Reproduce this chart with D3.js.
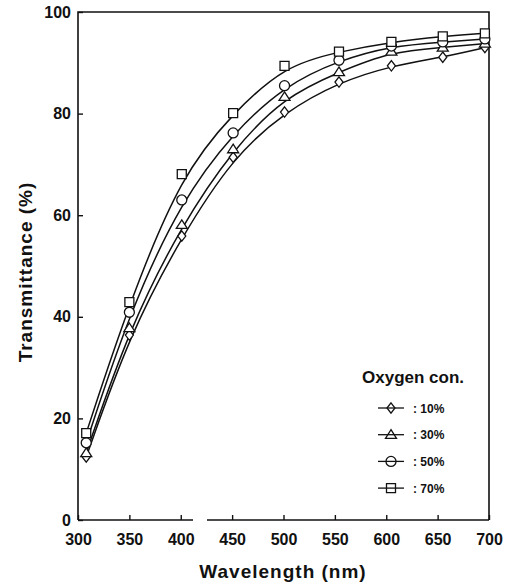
<!DOCTYPE html>
<html>
<head>
<meta charset="utf-8">
<script src="https://cdn.jsdelivr.net/npm/d3@7"></script>
<style>
  body { margin: 0; background: #fff; }
  svg { display: block; }
  text { font-family: "Liberation Sans", Arial, Helvetica, sans-serif; fill: #111; }
</style>
</head>
<body>
<svg id="chart" width="508" height="585"></svg>
<script>
// Measured wavelengths (nm) of the sample points
const wavelength = [308, 350, 401, 451, 501, 554, 605, 655, 696];

// Transmittance (%) for each oxygen concentration
const oxygen10 = [12.4, 36.4, 55.9, 71.4, 80.3, 86.2, 89.4, 91.1, 93.0];
const oxygen30 = [13.2, 37.8, 58.1, 73.0, 83.3, 88.2, 92.2, 93.0, 93.8];
const oxygen50 = [15.2, 40.9, 63.0, 76.2, 85.5, 90.5, 93.3, 94.1, 94.7];
const oxygen70 = [17.1, 42.9, 68.1, 80.1, 89.4, 92.2, 94.1, 95.2, 95.8];

const seriesLabels = [": 10%", ": 30%", ": 50%", ": 70%"];
const seriesShapes = ["diamond", "triangle", "circle", "square"];

const xTickValues = [300, 350, 400, 450, 500, 550, 600, 650, 700];
const yTickValues = [0, 20, 40, 60, 80, 100];

const series = [oxygen10, oxygen30, oxygen50, oxygen70].map((vals, i) => ({
  label: seriesLabels[i],
  shape: seriesShapes[i],
  points: vals.map((v, j) => ({ x: wavelength[j], y: v }))
}));

const svg = d3.select("#chart");

const plotLeft = 78, plotRight = 489, plotTop = 12, plotBottom = 520;
const x = d3.scaleLinear().domain([300, 700]).range([plotLeft, plotRight]);
const y = d3.scaleLinear().domain([0, 100]).range([plotBottom, plotTop]);

// Open marker outlines, centred on the origin
function markerPath(shape) {
  switch (shape) {
    case "diamond":  return "M0,-5.2L4,0L0,5.2L-4,0Z";
    case "triangle": return "M0,-5L5.5,3.6L-5.5,3.6Z";
    case "square":   return "M-4.5,-4.5H4.5V4.5H-4.5Z";
    default:         return d3.symbol(d3.symbolCircle, Math.PI * 5 * 5)();
  }
}

// Frame (the bottom edge has a short break)
const frame = svg.append("g")
  .attr("stroke", "#111").attr("stroke-width", 1.6).attr("fill", "none");
frame.append("path").attr("d", `M${plotLeft},${plotBottom}V${plotTop}H${plotRight}V${plotBottom}`);
frame.append("line").attr("x1", plotLeft).attr("x2", 193).attr("y1", plotBottom).attr("y2", plotBottom);
frame.append("line").attr("x1", 207).attr("x2", plotRight).attr("y1", plotBottom).attr("y2", plotBottom);

// Axes with inward ticks
const xAxis = svg.append("g")
  .attr("transform", `translate(0,${plotBottom})`)
  .call(d3.axisBottom(x).tickValues(xTickValues).tickSizeInner(-5).tickSizeOuter(0).tickPadding(13.5));
const yAxis = svg.append("g")
  .attr("transform", `translate(${plotLeft},0)`)
  .call(d3.axisLeft(y).tickValues(yTickValues).tickSizeInner(-5).tickSizeOuter(0).tickPadding(7));

[xAxis, yAxis].forEach(ax => {
  ax.select(".domain").remove();
  ax.selectAll(".tick line").attr("stroke", "#111").attr("stroke-width", 1.4);
  ax.selectAll(".tick text")
    .attr("font-family", "'Liberation Sans', Arial, sans-serif")
    .attr("font-size", 16).attr("font-weight", "bold").attr("fill", "#111");
});

// Axis titles
svg.append("text")
  .attr("x", 283).attr("y", 578)
  .attr("text-anchor", "middle")
  .attr("font-size", 19).attr("font-weight", "bold")
  .attr("letter-spacing", 1)
  .text("Wavelength (nm)");

svg.append("text")
  .attr("transform", "translate(32,272) rotate(-90)")
  .attr("text-anchor", "middle")
  .attr("font-size", 19).attr("font-weight", "bold")
  .attr("letter-spacing", 1)
  .text("Transmittance (%)");

// Smoothed curves
const line = d3.line().x(d => x(d.x)).y(d => y(d.y)).curve(d3.curveBasis);
svg.append("g").selectAll("path.curve")
  .data(series).join("path")
  .attr("class", "curve")
  .attr("d", d => line(d.points))
  .attr("fill", "none").attr("stroke", "#111").attr("stroke-width", 1.5);

// Markers
const markerGroups = svg.append("g").selectAll("g.series")
  .data(series).join("g").attr("class", "series");
markerGroups.selectAll("path")
  .data(d => d.points.map(p => ({ ...p, shape: d.shape })))
  .join("path")
  .attr("transform", d => `translate(${x(d.x)},${y(d.y)})`)
  .attr("d", d => markerPath(d.shape))
  .attr("fill", "#fff").attr("stroke", "#111").attr("stroke-width", 1.3);

// Legend
const legend = svg.append("g");
legend.append("text")
  .attr("x", 362).attr("y", 383)
  .attr("font-size", 17).attr("font-weight", "bold")
  .text("Oxygen con.");

const legendRows = legend.selectAll("g.row")
  .data(series).join("g").attr("class", "row")
  .attr("transform", (d, i) => `translate(391,${408 + i * 26.7})`);
legendRows.append("line")
  .attr("x1", -13).attr("x2", 13)
  .attr("stroke", "#111").attr("stroke-width", 1.3);
legendRows.append("path")
  .attr("d", d => markerPath(d.shape))
  .attr("fill", "none").attr("stroke", "#111").attr("stroke-width", 1.3);
legendRows.append("text")
  .attr("x", 22).attr("y", 4.5)
  .attr("font-size", 12).attr("font-weight", "bold")
  .text(d => d.label);
</script>
</body>
</html>
